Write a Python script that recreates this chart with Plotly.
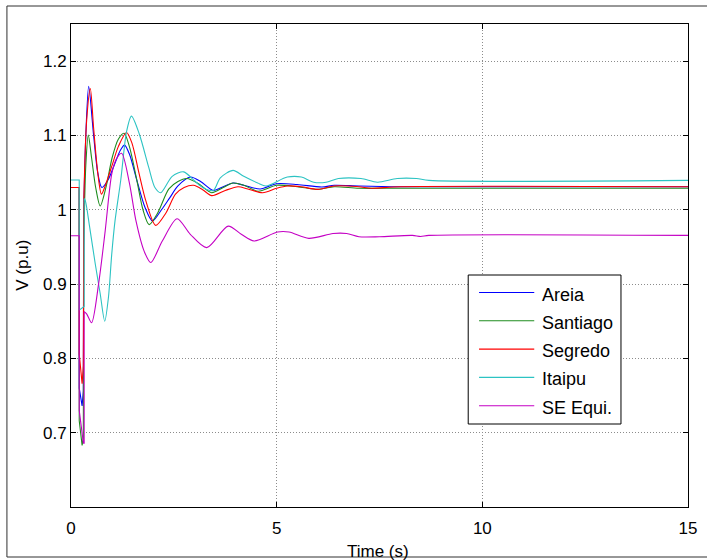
import plotly.graph_objects as go

# ---------------- data ----------------
series_names = ["Areia", "Santiago", "Segredo", "Itaipu", "SE Equi."]

t_areia = [0, 0.2, 0.2, 0.27, 0.3, 0.31, 0.36, 0.43, 0.55, 0.65, 0.75, 0.9, 1.05, 1.2, 1.3,
           1.42, 1.6, 1.8, 1.98, 2.2, 2.4, 2.6, 2.9, 3.15, 3.46, 3.7, 3.94, 4.2, 4.6, 5.0,
           5.5, 6.1, 6.4, 7.0, 8.0, 15]
v_areia = [1.03, 1.03, 0.76, 0.736, 0.756, 1.0, 1.10, 1.166, 1.10, 1.05, 1.03, 1.04, 1.06, 1.08, 1.087,
           1.075, 1.04, 1.003, 0.985, 1.0, 1.016, 1.032, 1.044, 1.038, 1.026, 1.031, 1.036, 1.033, 1.028, 1.035,
           1.034, 1.0306, 1.033, 1.032, 1.031, 1.031]

t_santiago = [0, 0.2, 0.2, 0.27, 0.3, 0.31, 0.36, 0.42, 0.5, 0.6, 0.71, 0.85, 1.0, 1.15, 1.29,
              1.42, 1.6, 1.75, 1.9, 2.1, 2.38, 2.6, 2.82, 3.1, 3.42, 3.7, 3.94, 4.2, 4.55, 5.0,
              5.5, 6.0, 6.4, 7.0, 8.0, 15]
v_santiago = [1.03, 1.03, 0.716, 0.683, 0.693, 0.95, 1.06, 1.1005, 1.07, 1.03, 1.005, 1.03, 1.07, 1.095, 1.103,
              1.085, 1.04, 1.0, 0.980, 0.995, 1.028, 1.038, 1.042, 1.035, 1.023, 1.03, 1.036, 1.033, 1.025, 1.033,
              1.031, 1.0275, 1.031, 1.029, 1.029, 1.029]

t_segredo = [0, 0.2, 0.2, 0.27, 0.3, 0.31, 0.38, 0.47, 0.55, 0.65, 0.74, 0.85, 1.0, 1.15, 1.35,
             1.48, 1.65, 1.82, 2.06, 2.3, 2.54, 2.75, 2.98, 3.2, 3.42, 3.75, 4.06, 4.3, 4.66, 5.0,
             5.26, 5.6, 6.0, 6.4, 7.0, 7.3, 8.0, 15]
v_segredo = [1.03, 1.03, 0.806, 0.766, 0.79, 1.01, 1.12, 1.163, 1.11, 1.05, 1.021, 1.035, 1.06, 1.085, 1.104,
             1.09, 1.05, 1.012, 0.979, 0.995, 1.021, 1.03, 1.033, 1.027, 1.019, 1.026, 1.031, 1.028, 1.023, 1.029,
             1.032, 1.031, 1.0275, 1.032, 1.031, 1.029, 1.031, 1.031]

t_itaipu = [0, 0.2, 0.2, 0.3, 0.32, 0.32, 0.35, 0.45, 0.59, 0.71, 0.82, 0.91, 0.99, 1.07, 1.21,
            1.35, 1.47, 1.66, 1.89, 2.04, 2.18, 2.46, 2.74, 3.0, 3.2, 3.46, 3.63, 3.94, 4.2, 4.54,
            4.74, 5.26, 5.6, 5.9, 6.2, 6.5, 7.05, 7.45, 7.93, 8.4, 8.7, 15]
v_itaipu = [1.04, 1.04, 0.865, 0.87, 0.87, 1.015, 1.012, 0.978, 0.927, 0.887, 0.85, 0.882, 0.94, 0.985, 1.04,
            1.105, 1.126, 1.102, 1.057, 1.03, 1.023, 1.045, 1.051, 1.039, 1.030, 1.026, 1.043, 1.053, 1.045, 1.036,
            1.032, 1.044, 1.044, 1.037, 1.037, 1.042, 1.042, 1.037, 1.042, 1.042, 1.0395, 1.0395]

t_se_equi = [0, 0.2, 0.2, 0.3, 0.32, 0.32, 0.38, 0.5, 0.67, 0.83, 0.99, 1.1, 1.23, 1.42, 1.58,
             1.78, 1.94, 2.22, 2.58, 2.9, 3.3, 3.82, 4.14, 4.45, 5.02, 5.3, 5.78, 6.37, 6.7, 7.0,
             7.5, 8.3, 8.5, 8.7, 15]
v_se_equi = [0.965, 0.965, 0.73, 0.686, 0.686, 0.863, 0.86, 0.848, 0.9, 0.971, 1.048, 1.068, 1.076, 1.036, 0.985,
             0.944, 0.929, 0.958, 0.988, 0.967, 0.949, 0.978, 0.967, 0.958, 0.97, 0.97, 0.9615, 0.968, 0.968, 0.9637,
             0.9637, 0.9655, 0.964, 0.9655, 0.9655]

x_ticks = [0, 5, 10, 15]
y_ticks = [0.7, 0.8, 0.9, 1.0, 1.1, 1.2]
y_tick_labels = ["0.7", "0.8", "0.9", "1", "1.1", "1.2"]

x_title = "Time (s)"
y_title = "V (p.u)"

# ---------------- styling ----------------
colors = ["#0000ff", "#1e8c1e", "#ff0000", "#2cc3c3", "#c400c4"]
FONT = "Liberation Sans, Arial, sans-serif"
CLEAR_T = 0.32  # after this time the transient is drawn smoothed

W, H = 707, 560
L, R, T, B = 71, 10, 24, 53
PW = W - L - R
PH = H - T - B


def px_x(p):
    return (p - L) / PW


def px_y(p):
    return (H - B - p) / PH


fig = go.Figure()
all_t = [t_areia, t_santiago, t_segredo, t_itaipu, t_se_equi]
all_v = [v_areia, v_santiago, v_segredo, v_itaipu, v_se_equi]
for name, tt, vv, c in zip(series_names, all_t, all_v, colors):
    k = max(i for i, t in enumerate(tt) if t <= CLEAR_T)
    # pre-fault and fault period (sharp steps)
    fig.add_trace(go.Scatter(x=tt[:k + 1], y=vv[:k + 1], mode="lines", name=name,
                             line=dict(color=c, width=1.1), showlegend=False))
    # post-fault oscillations (smooth)
    fig.add_trace(go.Scatter(x=tt[k:], y=vv[k:], mode="lines", name=name,
                             line=dict(color=c, width=1.1, shape="spline", smoothing=0.8),
                             showlegend=False))

axis_common = dict(
    showline=True, linecolor="black", linewidth=1, mirror="ticks",
    ticks="inside", ticklen=5, tickcolor="black", tickwidth=1,
    showgrid=True, gridcolor="#8c8c8c", griddash="1px,2px", gridwidth=1,
    zeroline=False, tickfont=dict(family=FONT, size=17, color="black"),
)

fig.update_xaxes(range=[0, 15], tickvals=x_ticks, ticktext=[str(v) for v in x_ticks],
                 ticklabelstandoff=6, **axis_common)
fig.update_yaxes(range=[0.6, 1.25], tickvals=y_ticks, ticktext=y_tick_labels,
                 ticklabelstandoff=0, **axis_common)

shapes = []
# outer frame (open on the right, as in the reference)
shapes.append(dict(type="rect", xref="paper", yref="paper",
                   x0=px_x(6), x1=2.0, y0=px_y(557), y1=px_y(6),
                   line=dict(color="#303030", width=1), layer="below"))
# legend box
shapes.append(dict(type="rect", xref="paper", yref="paper",
                   x0=px_x(474), x1=px_x(629), y0=px_y(424), y1=px_y(275),
                   line=dict(color="black", width=1), fillcolor="white", layer="above"))
annotations = []
for i, (name, c) in enumerate(zip(series_names, colors)):
    yy = 292.5 + i * 28.3
    shapes.append(dict(type="line", xref="paper", yref="paper",
                       x0=px_x(485), x1=px_x(541), y0=px_y(yy), y1=px_y(yy),
                       line=dict(color=c, width=1.1), layer="above"))
    annotations.append(dict(xref="paper", yref="paper", x=px_x(547), y=px_y(yy + 2),
                            xanchor="left", yanchor="middle", text=name, showarrow=False,
                            font=dict(family=FONT, size=18, color="black")))

annotations.append(dict(xref="paper", yref="paper", x=px_x(382), y=px_y(551),
                        xanchor="center", yanchor="middle", text=x_title, showarrow=False,
                        font=dict(family=FONT, size=17, color="black")))
annotations.append(dict(xref="paper", yref="paper", x=px_x(21), y=px_y(265),
                        xanchor="center", yanchor="middle", text=y_title, showarrow=False,
                        textangle=-90, font=dict(family=FONT, size=17, color="black")))

fig.update_layout(
    width=W, height=H, autosize=False,
    margin=dict(l=L, r=R, t=T, b=B, pad=0),
    paper_bgcolor="white", plot_bgcolor="white",
    shapes=shapes, annotations=annotations,
    showlegend=False, hovermode=False,
    font=dict(family=FONT, size=17, color="black"),
)

page_js = """
document.documentElement.style.overflow='hidden';
document.body.style.margin='0px';
document.body.style.overflow='hidden';
"""

fig.write_html("out.html",
               config={"responsive": False, "displayModeBar": False},
               post_script=page_js)
